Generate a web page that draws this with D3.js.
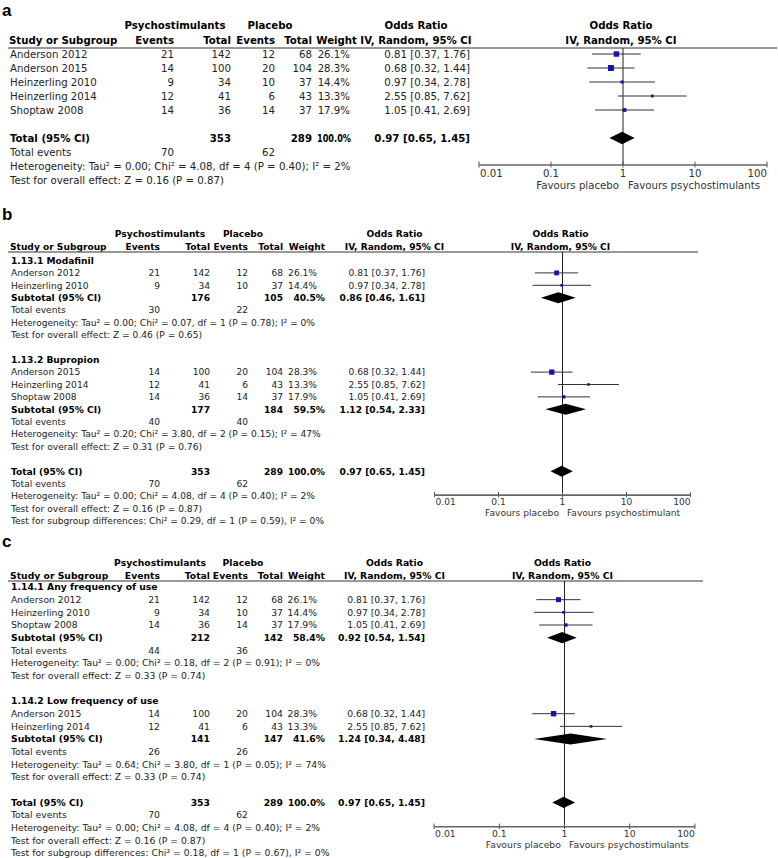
<!DOCTYPE html>
<html><head><meta charset="utf-8">
<script src="https://cdn.jsdelivr.net/npm/d3@7"></script>
<style>body{margin:0;background:#fff}svg{display:block}</style>
</head><body>
<svg id="chart" width="778" height="858"></svg>
<script>
// ---------- DATA ----------
const studyNames   = ["Anderson 2012","Anderson 2015","Heinzerling 2010","Heinzerling 2014","Shoptaw 2008"];
const psychEvents  = [21,14,9,12,14];
const psychTotals  = [142,100,34,41,36];
const placEvents   = [12,20,10,6,14];
const placTotals   = [68,104,37,43,37];
const studyWeights = [26.1,28.3,14.4,13.3,17.9];
const studyOR      = [0.81,0.68,0.97,2.55,1.05];
const studyLo      = [0.37,0.32,0.34,0.85,0.41];
const studyHi      = [1.76,1.44,2.78,7.62,2.69];

// summaries: 0 Modafinil, 1 Bupropion, 2 Any frequency, 3 Low frequency, 4 Overall
const summaryLabels      = ["1.13.1 Modafinil","1.13.2 Bupropion","1.14.1 Any frequency of use","1.14.2 Low frequency of use","Overall"];
const summaryStudies     = [[0,2],[1,3,4],[0,2,4],[1,3],[0,1,2,3,4]];
const summaryPsychTotal  = [176,177,212,141,353];
const summaryPlacTotal   = [105,184,142,147,289];
const summaryWeight      = [40.5,59.5,58.4,41.6,100.0];
const summaryOR          = [0.86,1.12,0.92,1.24,0.97];
const summaryLo          = [0.46,0.54,0.54,0.34,0.65];
const summaryHi          = [1.61,2.33,1.54,4.48,1.45];
const summaryPsychEvents = [30,40,44,26,70];
const summaryPlacEvents  = [22,40,36,26,62];
const summaryTau2        = ["0.00","0.20","0.00","0.64","0.00"];
const summaryChi2        = ["0.07","3.80","0.18","3.80","4.08"];
const summaryDf          = [1,2,2,1,4];
const summaryHetP        = ["0.78","0.15","0.91","0.05","0.40"];
const summaryI2          = [0,47,0,74,2];
const summaryZ           = ["0.46","0.31","0.33","0.33","0.16"];
const summaryZP          = ["0.65","0.76","0.74","0.74","0.87"];

const diffChi2 = ["0.29","0.18"];
const diffDf   = [1,1];
const diffP    = ["0.59","0.67"];
const diffI2   = [0,0];

const tickValues = [0.01,0.1,1,10,100];
const tickLabels = ["0.01","0.1","1","10","100"];

// ---------- LAYOUT ----------
const panels = [
  {label:"a", groups:null, diff:null, favL:"Favours placebo", favR:"Favours psychostimulants",
   labelY:15.5, hdr1:25, hdr2:40, lineY:48, firstY:54, step:14, textX:10, fs:10.2,
   cols:{pe:174,pt:231,ple:275,plt:312,w:350,wB:351,wH:357,or:470}, psychH:175, placH:270, orH:416,
   x1:623, decade:72, right:777},
  {label:"b", groups:[0,1], diff:0, favL:"Favours placebo", favR:"Favours psychostimulant",
   labelY:220, hdr1:234, hdr2:247, lineY:252, firstY:260.5, step:12.4, textX:11, fs:9.1,
   cols:{pe:160,pt:210,ple:248,plt:283,w:317,wB:325,wH:325,or:425}, psychH:160, placH:243, orH:394.5,
   x1:562.5, decade:64, right:698},
  {label:"c", groups:[2,3], diff:1, favL:"Favours placebo", favR:"Favours psychostimulants",
   labelY:547, hdr1:563, hdr2:576, lineY:581, firstY:587, step:12.67, textX:11, fs:9.25,
   cols:{pe:160,pt:210,ple:248,plt:283,w:317,wB:325,wH:325,or:425}, psychH:160, placH:243, orH:394.5,
   x1:564.5, decade:65.2, right:703}
];

const svg = d3.select("#chart");
const FONT = "DejaVu Sans, Verdana, sans-serif";

const hetText = i => `Heterogeneity: Tau\u00B2 = ${summaryTau2[i]}; Chi\u00B2 = ${summaryChi2[i]}, df = ${summaryDf[i]} (P = ${summaryHetP[i]}); I\u00B2 = ${summaryI2[i]}%`;
const zText = i => `Test for overall effect: Z = ${summaryZ[i]} (P = ${summaryZP[i]})`;
const diffText = i => `Test for subgroup differences: Chi\u00B2 = ${diffChi2[i]}, df = ${diffDf[i]} (P = ${diffP[i]}), I\u00B2 = ${diffI2[i]}%`;
const fmtOR = (o,l,h) => `${o.toFixed(2)} [${l.toFixed(2)}, ${h.toFixed(2)}]`;
const fmtW = w => w.toFixed(1) + "%";

panels.forEach(P => {
  const s = P.step / 14;
  const g = svg.append("g").attr("font-family", FONT).attr("font-size", P.fs).attr("fill","#222");

  const rows = [];
  const addSummaryBlock = (si, isTotal) => {
    rows.push({type:"summary", si, isTotal});
    rows.push({type:"events", si});
    rows.push({type:"het", si});
    rows.push({type:"z", si});
  };
  if (!P.groups) {
    summaryStudies[4].forEach(i => rows.push({type:"study", i}));
    rows.push({type:"blank"});
    addSummaryBlock(4, true);
  } else {
    P.groups.forEach(gi => {
      rows.push({type:"group", si:gi});
      summaryStudies[gi].forEach(i => rows.push({type:"study", i}));
      addSummaryBlock(gi, false);
      rows.push({type:"blank"});
    });
    addSummaryBlock(4, true);
    rows.push({type:"diff", di:P.diff});
  }
  const yScale = d3.scaleLinear().domain([0,1]).range([P.firstY, P.firstY + P.step]);
  rows.forEach((r,k) => r.y = yScale(k));

  const x = d3.scaleLog().domain([0.01,100]).range([P.x1 - 2*P.decade, P.x1 + 2*P.decade]);

  const txt = (str, xx, yy, anchor="start", bold=false, fill=null, maxW=null) => {
    const t = g.append("text").attr("x",xx).attr("y",yy).attr("dy","0.36em")
      .attr("text-anchor",anchor).text(str);
    if (bold) t.attr("font-weight","bold").attr("fill","#000");
    if (fill) t.attr("fill",fill);
    if (maxW) {
      const L = t.node().getComputedTextLength();
      if (L > maxW) t.attr("textLength", maxW).attr("lengthAdjust","spacingAndGlyphs");
    }
    return t;
  };

  svg.append("text").attr("x",2).attr("y",P.labelY).attr("font-family","Liberation Sans, Arial, sans-serif")
    .attr("font-weight","bold").attr("font-size",17).attr("fill","#000").text(P.label);

  const C = P.cols;
  txt("Psychostimulants", P.psychH, P.hdr1, "middle", true);
  txt("Placebo", P.placH, P.hdr1, "middle", true);
  txt("Odds Ratio", P.orH, P.hdr1, "middle", true);
  txt("Odds Ratio", P.x1 - 2, P.hdr1, "middle", true);
  txt("Study or Subgroup", P.textX - 1, P.hdr2, "start", true);
  txt("Events", C.pe, P.hdr2, "end", true);
  txt("Total", C.pt, P.hdr2, "end", true);
  txt("Events", C.ple, P.hdr2, "end", true, null, C.ple - C.pt - 2);
  txt("Total", C.plt, P.hdr2, "end", true);
  txt("Weight", C.wH, P.hdr2, "end", true, null, C.wH - C.plt - 4);
  txt("IV, Random, 95% CI", P.orH, P.hdr2, "middle", true, null, 2*(P.orH - C.wH - 3));
  txt("IV, Random, 95% CI", P.x1 - 2, P.hdr2, "middle", true);

  g.append("line").attr("x1",8).attr("x2",P.right).attr("y1",P.lineY).attr("y2",P.lineY)
    .attr("stroke","#777").attr("stroke-width",1.6);

  const hetRow = rows.filter(r => r.type==="het" && r.si===4)[0];
  const axisY = hetRow.y - 1;

  g.append("line").attr("x1",x(1)).attr("x2",x(1)).attr("y1",P.lineY).attr("y2",axisY)
    .attr("stroke","#222").attr("stroke-width",1);

  const ax = g.append("g");
  ax.append("line").attr("x1",x(0.01)).attr("x2",x(100)).attr("y1",axisY).attr("y2",axisY)
    .attr("stroke","#666").attr("stroke-width",1.6);
  tickValues.forEach((v,i) => {
    ax.append("line").attr("x1",x(v)).attr("x2",x(v)).attr("y1",axisY-3.5*s).attr("y2",axisY+2.5*s)
      .attr("stroke","#555").attr("stroke-width",1);
    const anchor = i===0 ? "start" : (i===tickValues.length-1 ? "end" : "middle");
    txt(tickLabels[i], x(v) + (i===0?1:0), axisY + 8*s, anchor, false, "#333");
  });
  txt(P.favL, x(1) - 4*s, axisY + 20*s, "end", false, "#333");
  txt(P.favR, x(1) + 5*s, axisY + 20*s, "start", false, "#333");

  const diamond = (o,l,h,y,hh) => {
    g.append("path").attr("d", `M${x(l)},${y} L${x(o)},${y-hh} L${x(h)},${y} L${x(o)},${y+hh} Z`)
      .attr("fill","#000");
  };

  rows.forEach(r => {
    const y = r.y;
    if (r.type === "study") {
      const i = r.i;
      txt(studyNames[i], P.textX, y);
      txt(psychEvents[i], C.pe, y, "end");
      txt(psychTotals[i], C.pt, y, "end");
      txt(placEvents[i], C.ple, y, "end");
      txt(placTotals[i], C.plt, y, "end");
      txt(fmtW(studyWeights[i]), C.w, y, "end", false, null, C.w - C.plt - 4);
      txt(fmtOR(studyOR[i], studyLo[i], studyHi[i]), C.or, y, "end", false, null, C.or - C.w - 8);
      g.append("line").attr("x1",x(studyLo[i])).attr("x2",x(studyHi[i])).attr("y1",y).attr("y2",y)
        .attr("stroke","#333").attr("stroke-width",1);
      const sz = Math.max(2.6, studyWeights[i] * 0.21 * s);
      g.append("rect").attr("x",x(studyOR[i]) - sz/2).attr("y",y - sz/2).attr("width",sz).attr("height",sz)
        .attr("fill","#1414a6");
    } else if (r.type === "group") {
      txt(summaryLabels[r.si], P.textX, y, "start", true);
    } else if (r.type === "summary") {
      const si = r.si;
      txt(r.isTotal ? "Total (95% CI)" : "Subtotal (95% CI)", P.textX, y, "start", true);
      txt(summaryPsychTotal[si], C.pt, y, "end", true);
      txt(summaryPlacTotal[si], C.plt, y, "end", true);
      txt(fmtW(summaryWeight[si]), C.wB, y, "end", true, null, C.wB - C.plt - 5);
      txt(fmtOR(summaryOR[si], summaryLo[si], summaryHi[si]), C.or, y, "end", true, null, C.or - C.wB - 8);
      diamond(summaryOR[si], summaryLo[si], summaryHi[si], y, 0.44 * P.step);
    } else if (r.type === "events") {
      txt("Total events", P.textX, y);
      txt(summaryPsychEvents[r.si], C.pe, y, "end");
      txt(summaryPlacEvents[r.si], C.ple, y, "end");
    } else if (r.type === "het") {
      txt(hetText(r.si), P.textX, y);
    } else if (r.type === "z") {
      txt(zText(r.si), P.textX, y);
    } else if (r.type === "diff") {
      txt(diffText(r.di), P.textX, y);
    }
  });
});
</script>
</body></html>
